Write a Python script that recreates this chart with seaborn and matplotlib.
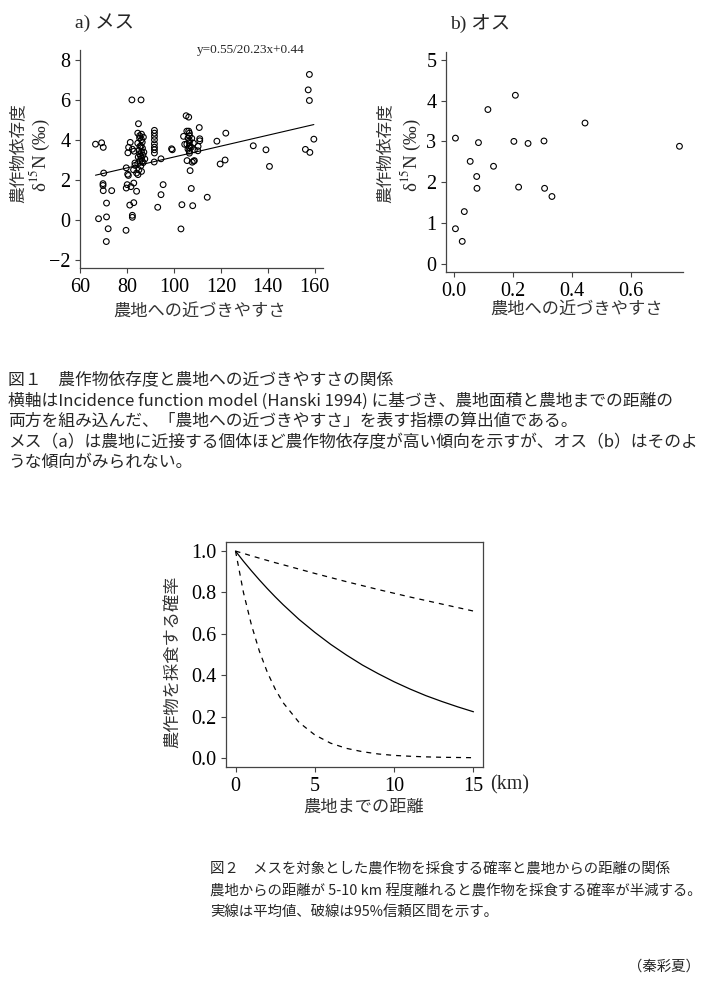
import matplotlib
matplotlib.use("Agg")
import numpy as np
import pandas as pd
import matplotlib.pyplot as plt
from matplotlib.ticker import FormatStrFormatter
import seaborn as sns

# 図1 a) メス : 農地への近づきやすさ と δ15N
mesu_x = [66.6, 69.2, 69.9, 70.1, 69.8, 69.8, 69.9, 73.5, 71.3, 67.9, 71.3, 72.0, 71.2,
          79.7, 80.3, 80.6, 79.7, 80.1, 79.6, 80.4, 80.7, 81.4, 82.1, 86.0, 81.2, 82.9,
          82.3, 82.3, 81.7, 82.9, 84.1, 83.4, 82.8, 84.7, 82.3, 83.0,
          84.9, 84.6, 85.4, 86.2, 85.4, 86.2, 84.6, 86.5, 85.5, 86.6, 85.1, 86.2, 85.4,
          86.8, 84.8, 86.2, 85.5, 86.9, 84.6, 85.9, 85.1, 86.2, 84.1, 83.4, 87.6, 87.2,
          86.0, 87.0, 86.5, 85.8,
          91.7, 91.7, 91.7, 91.7, 91.7, 91.7, 91.7, 91.7, 91.6,
          94.5, 99.0, 99.3, 93.1, 95.4, 94.5, 103.0, 103.4, 105.2, 106.3, 104.1, 104.6,
          105.5, 106.3, 106.6, 106.6, 106.0, 106.6, 106.6, 105.5, 106.6, 106.6, 106.0, 106.6,
          106.6, 105.6, 107.6, 108.3, 107.4, 108.7, 106.9, 107.8, 108.4, 108.7, 107.4, 108.0,
          110.8, 111.0, 111.0, 110.3, 110.2, 114.2, 118.3, 119.7, 121.8, 122.1, 133.8, 139.2,
          140.7, 157.7, 157.2, 157.7, 156.0, 157.9, 159.6]
mesu_y = [3.80, 3.87, 3.64, 2.36, 1.83, 1.74, 1.48, 1.48, 0.86, 0.08, 0.17, -0.42, -1.06,
          2.62, 2.30, 2.24, 1.61, 1.78, -0.50, 3.37, 3.64, 3.89, 6.01, 6.01, 0.76, 0.88,
          0.25, 0.15, 1.68, 1.86, 1.45, 2.74, 2.52, 2.28, 3.55, 3.45,
          4.82, 4.35, 4.22, 4.30, 4.10, 4.02, 3.85, 3.90, 3.69, 3.60, 3.49, 3.40, 3.31,
          3.25, 3.16, 3.09, 2.97, 2.88, 2.82, 2.72, 2.52, 2.44, 2.36, 2.86, 3.06, 3.40,
          3.70, 4.15, 2.95, 3.20,
          4.49, 4.35, 4.19, 4.02, 3.82, 3.65, 3.52, 3.36, 2.91,
          3.07, 3.57, 3.52, 0.65, 1.78, 1.28, -0.43, 0.78, 5.22, 5.15, 4.19, 3.79,
          4.45, 4.45, 4.35, 4.22, 4.10, 3.98, 3.88, 3.80, 3.72, 3.62, 3.55, 3.45,
          3.35, 2.98, 4.09, 3.85, 3.65, 3.52, 2.48, 2.90, 2.95, 2.98, 1.59, 0.73,
          4.63, 4.07, 3.97, 3.69, 3.47, 1.15, 3.95, 2.81, 3.01, 4.35, 3.72, 3.52,
          2.69, 7.28, 6.51, 5.98, 3.54, 3.39, 4.05]
# 回帰式 y=0.55/20.23x+0.44
kaiki_katamuki = 0.55 / 20.23
kaiki_seppen = 0.44

# 図1 b) オス
osu_x = [0.004, 0.004, 0.027, 0.034, 0.054, 0.076, 0.077, 0.082, 0.114, 0.133,
         0.202, 0.207, 0.218, 0.250, 0.304, 0.306, 0.331, 0.443, 0.763]
osu_y = [3.08, 0.86, 0.55, 1.28, 2.51, 2.14, 1.85, 2.97, 3.78, 2.39,
         3.00, 4.13, 1.88, 2.95, 3.01, 1.85, 1.65, 3.45, 2.88]

# 図2 農地までの距離と採食確率
kyori_km = [0, 0.5, 1, 1.5, 2, 2.5, 3, 4, 5, 6, 7, 8, 9, 10, 11, 12, 13, 14, 15]
kakuritsu_heikin = [1.0, 0.951, 0.905, 0.861, 0.819, 0.779, 0.741, 0.670, 0.607, 0.549,
                    0.497, 0.449, 0.407, 0.368, 0.333, 0.301, 0.273, 0.247, 0.223]
kakuritsu_jougen = [1.0, 0.989, 0.977, 0.966, 0.955, 0.944, 0.934, 0.913, 0.892, 0.872,
                    0.852, 0.833, 0.814, 0.796, 0.778, 0.761, 0.744, 0.727, 0.710]
kakuritsu_kagen = [1.0, 0.80, 0.644, 0.517, 0.415, 0.333, 0.267, 0.172, 0.111, 0.071,
                   0.046, 0.030, 0.019, 0.012, 0.008, 0.005, 0.003, 0.002, 0.001]

sns.set_theme(style="ticks")
plt.rcParams["font.family"] = ["Liberation Serif", "Noto Sans CJK JP"]
plt.rcParams["mathtext.fontset"] = "stix"

W, H = 705, 990
fig = plt.figure(figsize=(W / 100, H / 100), dpi=100)
fig.patch.set_facecolor("white")

def px(x, y):
    return x / W, 1 - y / H

def ejes(left, top, right, bottom):
    return fig.add_axes([left / W, 1 - bottom / H, (right - left) / W, (bottom - top) / H])

jp = ["Noto Sans CJK JP"]
mixto = ["Liberation Serif", "Noto Sans CJK JP"]
gris = "#444444"

def estilo(ax, caja=False):
    ax.set_facecolor("white")
    for s in ["left", "bottom", "top", "right"]:
        ax.spines[s].set_color(gris)
        ax.spines[s].set_linewidth(0.9)
        if not caja and s in ("top", "right"):
            ax.spines[s].set_visible(False)
    ax.tick_params(labelsize=14.5, colors=gris, labelcolor="black", length=3.5, width=0.8)
    ax.set_xlabel("")
    ax.set_ylabel("")

# ---- panel a
ax1 = ejes(80, 50, 323, 268)
df_a = pd.DataFrame({"x": mesu_x, "y": mesu_y})
sns.scatterplot(data=df_a, x="x", y="y", ax=ax1, marker="o", s=17,
                facecolor="none", edgecolor="black", linewidth=0.8)
x_linea = [min(mesu_x), max(mesu_x)]
y_linea = [kaiki_seppen + kaiki_katamuki * v for v in x_linea]
sns.lineplot(x=x_linea, y=y_linea, ax=ax1, color="black", linewidth=0.8)
ax1.set_xlim(60, 163.5)
ax1.set_ylim(-2.38, 8.5)
ax1.set_xticks([60, 80, 100, 120, 140, 160])
ax1.set_yticks([-2, 0, 2, 4, 6, 8])
estilo(ax1)

# ---- panel b
ax2 = ejes(446, 52, 683, 272)
df_b = pd.DataFrame({"x": osu_x, "y": osu_y})
sns.scatterplot(data=df_b, x="x", y="y", ax=ax2, marker="o", s=17,
                facecolor="none", edgecolor="black", linewidth=0.8)
ax2.set_xlim(-0.028, 0.775)
ax2.set_ylim(-0.2, 5.19)
ax2.set_xticks([0.0, 0.2, 0.4, 0.6])
ax2.set_yticks([0, 1, 2, 3, 4, 5])
ax2.xaxis.set_major_formatter(FormatStrFormatter("%.1f"))
estilo(ax2)

# ---- 図2
ax3 = ejes(226, 542, 483, 767)
sns.lineplot(x=kyori_km, y=kakuritsu_heikin, ax=ax3, color="black", linewidth=0.9)
sns.lineplot(x=kyori_km, y=kakuritsu_jougen, ax=ax3, color="black", linewidth=0.9,
             linestyle=(0, (4, 4)))
sns.lineplot(x=kyori_km, y=kakuritsu_kagen, ax=ax3, color="black", linewidth=0.9,
             linestyle=(0, (4, 4)))
ax3.set_xlim(-0.6, 15.6)
ax3.set_ylim(-0.044, 1.044)
ax3.set_xticks([0, 5, 10, 15])
ax3.set_yticks([0.0, 0.2, 0.4, 0.6, 0.8, 1.0])
ax3.yaxis.set_major_formatter(FormatStrFormatter("%.1f"))
estilo(ax3, caja=True)

# ---- textos de los paneles
fig.text(*px(75, 23), "a) メス", family=mixto, fontsize=14, va="center", ha="left")
fig.text(*px(450, 23), "b) オス", family=mixto, fontsize=14, va="center", ha="left")
fig.text(*px(197, 50), "y=0.55/20.23x+0.44", family=mixto, fontsize=9.5, va="center", ha="left")

for xl, xr in [(18, 40), (385, 411)]:
    fig.text(*px(xl, 153), "農作物依存度", family=jp, fontsize=12, color="#333333",
             rotation=90, va="center", ha="center")
    fig.text(*px(xr, 155), "δ$^{15}$N (‰)", family=mixto, fontsize=13.5, rotation=90,
             va="center", ha="center")
fig.text(*px(200, 312), "農地への近づきやすさ", family=jp, fontsize=12.4, color="#333333",
         va="center", ha="center")
fig.text(*px(577, 310), "農地への近づきやすさ", family=jp, fontsize=12.4, color="#333333",
         va="center", ha="center")

fig.text(*px(173, 662), "農作物を採食する確率", family=jp, fontsize=12.4, color="#333333",
         rotation=90, va="center", ha="center")
fig.text(*px(364, 807), "農地までの距離", family=jp, fontsize=12.4, color="#333333",
         va="center", ha="center")
fig.text(*px(490, 785), "(km)", family=mixto, fontsize=14.5, va="center", ha="left")

# ---- pies de figura
pie1 = ["図１　農作物依存度と農地への近づきやすさの関係",
        "横軸はIncidence function model (Hanski 1994) に基づき、農地面積と農地までの距離の",
        "両方を組み込んだ、「農地への近づきやすさ」を表す指標の算出値である。",
        "メス（a）は農地に近接する個体ほど農作物依存度が高い傾向を示すが、オス（b）はそのよ",
        "うな傾向がみられない。"]
for i, linea in enumerate(pie1):
    fig.text(*px(8, 381 + i * 20.4), linea, family=jp, fontsize=12.1, va="center", ha="left")

pie2 = ["図２　メスを対象とした農作物を採食する確率と農地からの距離の関係",
        "農地からの距離が 5-10 km 程度離れると農作物を採食する確率が半減する。",
        "実線は平均値、破線は95%信頼区間を示す。"]
for i, linea in enumerate(pie2):
    fig.text(*px(210, 869 + i * 21.5), linea, family=jp, fontsize=10.4, va="center", ha="left")
fig.text(*px(700, 967), "（秦彩夏）", family=jp, fontsize=10.4, va="center", ha="right")

fig.savefig("out.png", dpi=100, facecolor="white")
